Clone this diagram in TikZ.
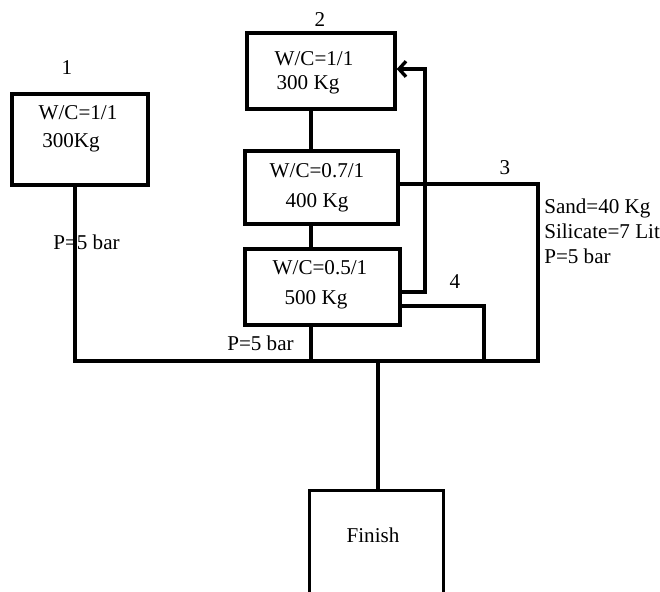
\documentclass[tikz,border=0pt]{standalone}
\usepackage{fontspec}
\setmainfont{Liberation Serif}
\usepackage{tikz}
\usetikzlibrary{arrows.meta,positioning}

\begin{document}
\begin{tikzpicture}[x=0.025cm,y=-0.025cm,
  box/.style={rectangle, draw, line width=2.4pt, inner sep=0pt},
  comment/.style={rectangle, inner sep=0pt, font=\fontsize{15}{18}\selectfont},
  pipe/.style={line width=2.4pt}]
\useasboundingbox (0,0) rectangle (660,592);

\node [box, minimum width=3.4cm, minimum height=2.275cm] (B1) at (80,139.5) {};
\node [box, minimum width=3.7cm, minimum height=1.9cm] (B2) at (321,71) {};
\node [box, minimum width=3.825cm, minimum height=1.825cm] (B3) at (321.5,187.5) {};
\node [box, minimum width=3.875cm, minimum height=1.9cm] (B4) at (322.5,287) {};
\node [rectangle, inner sep=0pt, minimum width=3.325cm, minimum height=2.525cm] (Fin) at (376.5,541.5) {};

\node [comment] (B1a) at (78,113) {W/C=1/1};
\node [comment] (B1b) at (71,143) {300Kg};
\node [comment] (B2a) at (314,59) {W/C=1/1};
\node [comment] (B2b) at (308,85) {300 Kg};
\node [comment] (B3a) at (317,171) {W/C=0.7/1};
\node [comment] (B3b) at (317,203) {400 Kg};
\node [comment] (B4a) at (320,268) {W/C=0.5/1};
\node [comment] (B4b) at (316,300) {500 Kg};
\node [comment] (FinT) at (373,535) {Finish};

\node [comment] (n1) at (67,68) {1};
\node [comment] (n2) at (320,20) {2};
\node [comment] (n3) at (505,168) {3};
\node [comment] (n4) at (455,282) {4};
\node [comment, anchor=west] (pL) at (53,242) {P=5 bar};
\node [comment, anchor=west] (pB) at (227,343) {P=5 bar};
\node [comment, anchor=west, align=left, font=\fontsize{15}{17.7}\selectfont] (mix) at (544,231) {Sand=40 Kg\\Silicate=7 Lit\\P=5 bar};

\coordinate (busL) at (75,361);
\coordinate (busR) at (538,361);
\coordinate (v) at (311,361);
\coordinate (out) at (378,361);

\draw [pipe] (busL |- B1.south) -- (busL) -- (busR) -- (busR |- 0,184) -- (B3.east |- 0,184);
\draw [pipe] (v |- B2.south) -- (v |- B3.north);
\draw [pipe] (v |- B3.south) -- (v |- B4.north);
\draw [pipe] (v |- B4.south) -- (v);
\draw [pipe] (B4.east |- 0,306) -- (484,306) -- (484,361);
\draw [pipe, -{Straight Barb[length=5pt,width=11pt]}] (B4.east |- 0,292) -- (425,292) -- (425,69) -- (B2.east |- 0,69);
\draw [pipe] (out) -- (out |- Fin.north);
\draw [pipe] (Fin.south west) -- (Fin.north west) -- (Fin.north east) -- (Fin.south east);

\end{tikzpicture}
\end{document}
